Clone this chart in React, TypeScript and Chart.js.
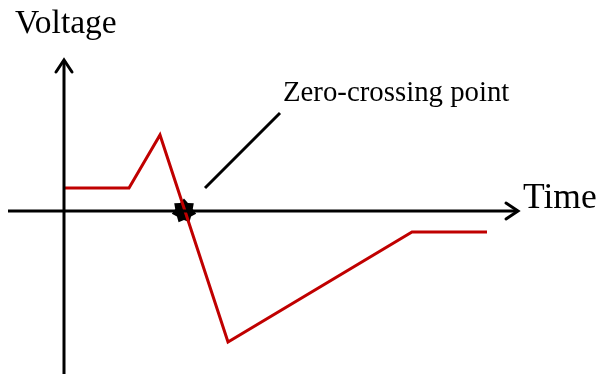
import React, { useEffect, useRef } from "react";
import { Chart, registerables } from "chart.js";

Chart.register(...registerables);

// Signal (time units, voltage units)
const signalTime = [0, 6.5, 9.6, 16.4, 34.8, 42.3];
const signalVoltage = [2.3, 2.3, 7.6, -13.1, -2.1, -2.1];

// Zero-crossing point
const zeroCrossTime = [12.0];
const zeroCrossVoltage = [0];

// Annotation leader line
const leaderTime = [14.1, 21.6];
const leaderVoltage = [2.3, 9.8];

// Axis extents
const timeAxisRange = [-5.6, 45.4];
const voltageAxisRange = [-16.3, 15.1];

// Text labels
const labelTexts = ["Voltage", "Time", "Zero-crossing point"];
const labelTime = [-4.9, 45.9, 21.9];
const labelVoltage = [17.8, 0.3, 11.0];
const labelSizes = [33.5, 35.5, 28.8];

function makeStar(): HTMLCanvasElement {
  const c = document.createElement("canvas");
  const s = 28;
  c.width = s;
  c.height = s;
  const ctx = c.getContext("2d")!;
  const n = 7;
  const ro = 12.5;
  const ri = 9;
  ctx.beginPath();
  for (let i = 0; i < n * 2; i++) {
    const r = i % 2 === 0 ? ro : ri;
    const a = -Math.PI / 2 + (i * Math.PI) / n;
    const x = s / 2 + r * Math.cos(a);
    const y = s / 2 + r * Math.sin(a);
    if (i === 0) ctx.moveTo(x, y);
    else ctx.lineTo(x, y);
  }
  ctx.closePath();
  ctx.fillStyle = "#000";
  ctx.fill();
  return c;
}

const zip = (xs: number[], ys: number[]) => xs.map((x, i) => ({ x, y: ys[i] }));

export default function App() {
  const ref = useRef<HTMLCanvasElement>(null);
  useEffect(() => {
    const canvas = ref.current!;
    const arrowPlugin = {
      id: "arrowsAndLabels",
      afterDatasetsDraw(chart: any) {
        const { ctx, scales } = chart;
        const xs = scales.x;
        const ys = scales.y;
        ctx.save();
        ctx.strokeStyle = "#000";
        ctx.lineWidth = 3;
        ctx.lineCap = "round";
        ctx.lineJoin = "miter";
        // x-axis arrowhead
        const tx = xs.getPixelForValue(timeAxisRange[1]);
        const ty = ys.getPixelForValue(0);
        ctx.beginPath();
        ctx.moveTo(tx - 12, ty - 8);
        ctx.lineTo(tx, ty);
        ctx.lineTo(tx - 12, ty + 8);
        ctx.stroke();
        // y-axis arrowhead
        const ux = xs.getPixelForValue(0);
        const uy = ys.getPixelForValue(voltageAxisRange[1]);
        ctx.beginPath();
        ctx.moveTo(ux - 8, uy + 12);
        ctx.lineTo(ux, uy);
        ctx.lineTo(ux + 8, uy + 12);
        ctx.stroke();
        // labels
        ctx.fillStyle = "#000";
        ctx.textBaseline = "alphabetic";
        ctx.textAlign = "left";
        labelTexts.forEach((t, i) => {
          ctx.font = `${labelSizes[i]}px "Liberation Serif", serif`;
          ctx.fillText(t, xs.getPixelForValue(labelTime[i]), ys.getPixelForValue(labelVoltage[i]));
        });
        ctx.restore();
      },
    };
    const chart = new Chart(canvas, {
      type: "scatter",
      data: {
        datasets: [
          {
            data: zip(timeAxisRange, [0, 0]),
            showLine: true,
            borderColor: "#000",
            borderWidth: 3,
            pointRadius: 0,
          },
          {
            data: zip([0, 0], voltageAxisRange),
            showLine: true,
            borderColor: "#000",
            borderWidth: 3,
            pointRadius: 0,
          },
          {
            data: zip(signalTime, signalVoltage),
            showLine: true,
            borderColor: "#C00000",
            borderWidth: 3,
            pointRadius: 0,
            tension: 0,
          },
          {
            data: zip(leaderTime, leaderVoltage),
            showLine: true,
            borderColor: "#000",
            borderWidth: 3,
            pointRadius: 0,
          },
          {
            data: zip(zeroCrossTime, zeroCrossVoltage),
            showLine: false,
            pointStyle: makeStar() as any,
            pointRadius: 12,
          },
        ],
      },
      options: {
        animation: false,
        responsive: false,
        events: [],
        layout: { padding: 0, autoPadding: false },
        plugins: { legend: { display: false }, tooltip: { enabled: false } },
        scales: {
          x: { type: "linear", min: -6.4, max: 53.8, display: false },
          y: { type: "linear", min: -16.5, max: 21.1, display: false },
        },
      },
      plugins: [arrowPlugin],
    });
    return () => chart.destroy();
  }, []);
  return (
    <div style={{ position: "fixed", left: 0, top: 0, width: 602, height: 376, background: "#fff" }}>
      <canvas ref={ref} width={602} height={376} />
    </div>
  );
}
